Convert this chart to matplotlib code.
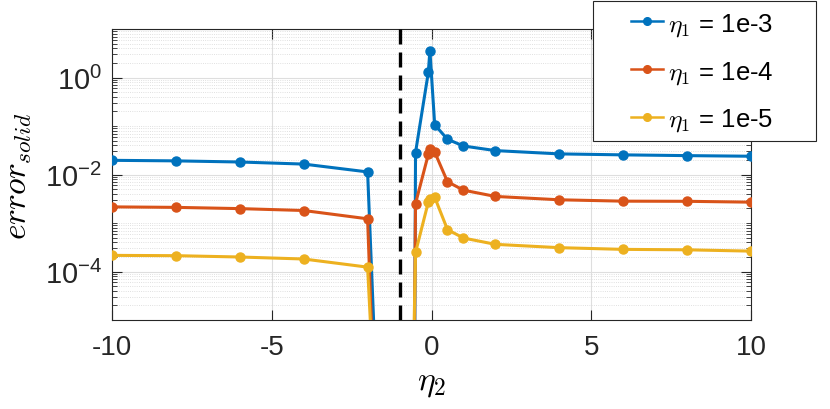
import numpy as np
import matplotlib
matplotlib.use("Agg")
import matplotlib.pyplot as plt
from matplotlib.lines import Line2D
from matplotlib.patches import Rectangle
from matplotlib.ticker import FixedLocator, FixedFormatter, NullFormatter

plt.rcParams['font.family'] = ['Liberation Sans', 'DejaVu Sans']
plt.rcParams['mathtext.fontset'] = 'cm'

# eta_2 values (the two points next to the dashed line lie far below the axis)
eta2 = [-10, -8, -6, -4, -2, -1.5, -0.6, -0.5, -0.1, -0.05, 0.1, 0.5, 1, 2, 4, 6, 8, 10]

err_1e3 = [0.0196, 0.0191, 0.0181, 0.0164, 0.0113, 8e-11, 1e-18, 0.0283,
           1.27, 3.59, 0.106, 0.0533, 0.0387, 0.0311, 0.0266, 0.0254, 0.0245, 0.0238]
err_1e4 = [0.00215, 0.00210, 0.00198, 0.00181, 0.00122, 1e-12, 1e-11, 0.00252,
           0.026, 0.033, 0.029, 0.0071, 0.00475, 0.00353, 0.00301, 0.00282, 0.00280, 0.00269]
err_1e5 = [2.15e-4, 2.12e-4, 1.99e-4, 1.81e-4, 1.23e-4, 4e-11, 1e-7, 2.47e-4,
           0.0027, 0.0031, 0.0034, 7.3e-4, 4.9e-4, 3.63e-4, 3.1e-4, 2.86e-4, 2.8e-4, 2.63e-4]

labels = [r'$\eta_1$ = 1e-3', r'$\eta_1$ = 1e-4', r'$\eta_1$ = 1e-5']
colors = ['#0072BD', '#D95319', '#EDB120']
singular = -1

fig = plt.figure(figsize=(8.3, 4.1), dpi=100)
ax = fig.add_axes([112 / 830, 1 - 321 / 410, (751 - 112) / 830, (321 - 30) / 410])

for y, c in zip([err_1e3, err_1e4, err_1e5], colors):
    ax.plot(eta2, y, '-o', color=c, lw=2.2, ms=6.5, zorder=3)

ax.axvline(singular, color='k', lw=2.4, dashes=(4.5, 2.4), zorder=4)

ax.set_yscale('log')
ax.set_xlim(-10, 10)
ax.set_ylim(1e-5, 1e1)

ax.set_xticks([-10, -5, 0, 5, 10])
ax.set_xticklabels(['-10', '-5', '0', '5', '10'])
ax.yaxis.set_major_locator(FixedLocator([1e-4, 1e-2, 1e0]))
ax.yaxis.set_major_formatter(FixedFormatter([r'$\mathregular{10^{-4}}$',
                                             r'$\mathregular{10^{-2}}$',
                                             r'$\mathregular{10^{0}}$']))
minors = [m * 10.0 ** k for k in range(-5, 1) for m in range(1, 10)
          if not (m == 1 and k % 2 == 0)]
ax.yaxis.set_minor_locator(FixedLocator(minors))
ax.yaxis.set_minor_formatter(NullFormatter())

ax.tick_params(axis='both', which='major', direction='in', length=7, width=0.8,
               labelsize=20, colors='#262626', top=True, right=True)
ax.tick_params(axis='x', which='major', pad=10)
ax.tick_params(axis='y', which='major', labelsize=21, pad=7)
ax.tick_params(axis='y', which='minor', direction='in', length=3.5, width=0.6,
               colors='#262626', left=True, right=True)
ax.tick_params(axis='x', which='minor', bottom=False, top=False)

ax.grid(True, which='major', color='#dedede', lw=0.8)
ax.grid(True, which='minor', axis='y', color='#d6d6d6', lw=0.6, ls=':')
ax.set_axisbelow(True)
for s in ax.spines.values():
    s.set_color('#262626')
    s.set_linewidth(0.8)

ax.set_xlabel(r'$\eta_2$', fontsize=24, labelpad=5)
ax.set_ylabel(r'$error_{solid}$', fontsize=24, labelpad=8)

# legend
fig.patches.append(Rectangle((593 / 830, 1 - 142 / 410), 223 / 830, 140 / 410,
                             transform=fig.transFigure, facecolor='white',
                             edgecolor='#262626', lw=0.8, zorder=5))
handles = [Line2D([], [], color=c, lw=1.8, marker='o', ms=5.5) for c in colors]
leg = fig.legend(handles, labels, loc='upper left', bbox_to_anchor=(631 / 830, 1 - 12 / 410),
                 frameon=False, fontsize=18.5, borderpad=0, borderaxespad=0,
                 handlelength=1.25, handletextpad=0.2, labelspacing=0.82)
leg.set_zorder(6)

fig.savefig('out.png', dpi=100)
